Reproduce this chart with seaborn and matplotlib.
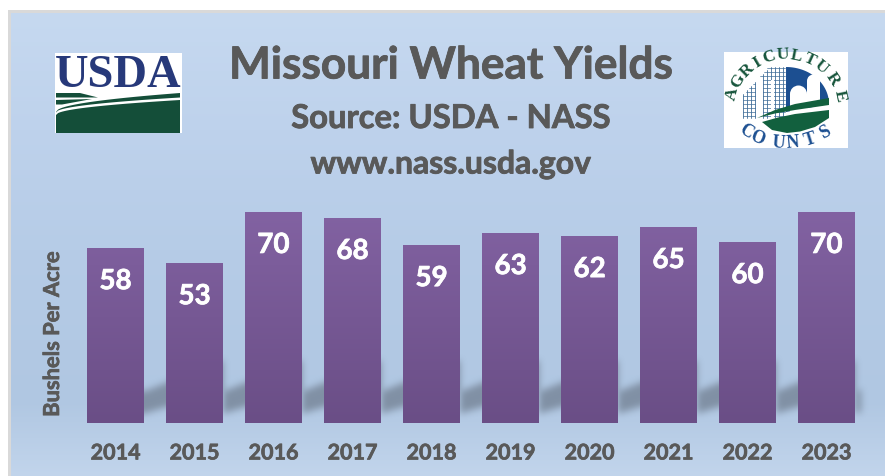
import numpy as np
import pandas as pd
import seaborn as sns
import matplotlib
matplotlib.use("Agg")
import matplotlib.pyplot as plt
import matplotlib.patheffects as pe
from matplotlib.patches import Rectangle, Polygon, Wedge

years = ["2014", "2015", "2016", "2017", "2018", "2019", "2020", "2021", "2022", "2023"]
yields = [58, 53, 70, 68, 59, 63, 62, 65, 60, 70]
title_lines = ["Missouri Wheat Yields", "Source: USDA - NASS", "www.nass.usda.gov"]
ylabel = "Bushels Per Acre"

W, H = 885, 476
GRAY = "#595959"
sns.set_theme(style="white")
plt.rcParams["font.family"] = ["Lato", "DejaVu Sans"]

fig = plt.figure(figsize=(W / 100, H / 100), dpi=100, facecolor="white")


def px_axes(l, t, r, b, **kw):
    return fig.add_axes([l / W, 1 - b / H, (r - l) / W, (b - t) / H], **kw)


def heavy(color, w=0.7):
    return [pe.withStroke(linewidth=w, foreground=color)]


# ---- background panel in pixel coordinates
bg = px_axes(0, 0, W, H)
bg.set_xlim(0, W)
bg.set_ylim(H, 0)
bg.axis("off")
stops_y = [12, 130, 250, 400, 476]
stops_c = np.array([[198, 217, 240], [190, 210, 236], [182, 204, 231], [176, 199, 226], [194, 213, 236]]) / 255
yy = np.arange(12, 476)
grad = np.stack([np.interp(yy, stops_y, stops_c[:, i]) for i in range(3)], axis=1)[:, None, :]
bg.imshow(grad, extent=(11, W, H, 12), aspect="auto", interpolation="bilinear", zorder=0)
bg.add_patch(Rectangle((8, 10), W - 8, 2.5, fc="#d9d9d9", ec="none", zorder=1))
bg.add_patch(Rectangle((8, 10), 3, H - 10, fc="#d9d9d9", ec="none", zorder=1))
bg.set_xlim(0, W)
bg.set_ylim(H, 0)

# ---- main chart
ax = px_axes(76, 212, 866, 423)
ax.patch.set_alpha(0)
df = pd.DataFrame({"year": years, "yield": yields})
sns.barplot(data=df, x="year", y="yield", ax=ax, color="#75588f", width=0.72, saturation=1,
            zorder=3, linewidth=0, edgecolor="none")
ax.set_xlim(-0.5, 9.5)
ax.set_ylim(0, 70)
ax.set_yticks([])
ax.set_xlabel("")
ax.set_ylabel("")
for s in ax.spines.values():
    s.set_visible(False)
ax.tick_params(axis="x", length=0, pad=14)
for t in ax.get_xticklabels():
    t.set_fontsize(15.5)
    t.set_fontweight("bold")
    t.set_color(GRAY)
    t.set_path_effects(heavy(GRAY, 0.5))
fig.text(52.5 / W, 1 - 333.5 / H, ylabel, rotation=90, ha="center", va="center",
         fontsize=15.8, fontweight="bold", color=GRAY, path_effects=heavy(GRAY, 0.5))

# gradient fill and labels on the bars
bars = list(ax.containers[0])
top_c = np.array([130, 98, 162]) / 255
bot_c = np.array([106, 78, 134]) / 255
ramp_t = np.linspace(0, 1, 256)[:, None, None]
ramp = top_c[None, None, :] * (1 - ramp_t) + bot_c[None, None, :] * ramp_t
for b in bars:
    im = ax.imshow(ramp, extent=(b.get_x(), b.get_x() + b.get_width(), 0, 70),
                   aspect="auto", zorder=4, interpolation="bilinear")
    im.set_clip_path(b)
ax.set_xlim(-0.5, 9.5)
ax.set_ylim(0, 70)
labels = ax.bar_label(ax.containers[0], labels=[str(v) for v in yields], label_type="edge",
                      padding=-29.5, color="white", fontsize=20, fontweight="bold", zorder=6)
for l in labels:
    l.set_va("baseline")
    l.set_path_effects(heavy("white", 0.5))

# soft shadow band behind the bars, derived from the bars' own pixel extents
fig.canvas.draw()
x0, x1 = 70, 885
y0, y1 = 350, 435
X, Y = np.meshgrid(np.arange(x0, x1), np.arange(y0, y1))
edges = [ax.transData.transform([(b.get_x(), 0), (b.get_x() + b.get_width(), 0)])[:, 0] for b in bars]
lefts = np.array([e[0] for e in edges])
rights = np.array([e[1] for e in edges])
local = np.full(X.shape, 0.0)
for r in rights:
    local = np.where(X >= r, X - r, local)
mask = ((X >= lefts[0] + 10) & (X <= rights[-1] + 6)
        & (Y >= 391 - 0.4 * local) & (Y <= 413 - 0.3 * local)).astype(float)
kernel = np.ones(7) / 7
for _ in range(3):
    mask = np.apply_along_axis(lambda v: np.convolve(v, kernel, mode="same"), 0, mask)
    mask = np.apply_along_axis(lambda v: np.convolve(v, kernel, mode="same"), 1, mask)
shadow = np.zeros(mask.shape + (4,))
shadow[..., :3] = np.array([90, 100, 115]) / 255
shadow[..., 3] = mask * 0.55
bg.imshow(shadow, extent=(x0, x1, y1, y0), aspect="auto", zorder=2, interpolation="bilinear")
bg.set_xlim(0, W)
bg.set_ylim(H, 0)

# ---- title block
for txt, y, fs in zip(title_lines, [65.5, 118.5, 164], [31.8, 23.6, 23], strict=True):
    bg.text(451, y, txt, ha="center", va="center", fontsize=fs, fontweight="bold", color=GRAY, zorder=5,
            path_effects=heavy(GRAY, 0.6))

# ---- USDA logo
NAVY = "#27397a"
DGREEN = "#144e39"
bg.add_patch(Rectangle((55, 53), 127, 80, fc="white", ec="none", zorder=5))
bg.text(118, 87, "USDA", ha="center", va="baseline", fontsize=33.5, color=NAVY, zorder=6,
        family="Liberation Serif", fontweight="bold")
xs = np.linspace(56, 180, 60)
frac = (xs - 56) / 124
bg.add_patch(Polygon(np.r_[np.c_[xs, 115 - 15 * np.sqrt(frac)], [[180, 133], [56, 133]]],
                     fc=DGREEN, ec="none", zorder=6))
bg.add_patch(Polygon(np.r_[np.c_[xs, 112 - 19 * np.sqrt(frac)], np.c_[xs, 112.5 - 15 * np.sqrt(frac)][::-1]],
                     fc=DGREEN, ec="none", zorder=6))
bg.add_patch(Polygon([[56, 93], [80, 93], [98, 97.5], [56, 97.5]], fc=DGREEN, ec="none", zorder=6))
bg.add_patch(Polygon([[56, 100], [92, 99], [62, 104.5], [56, 104.5]], fc=DGREEN, ec="none", zorder=6))

# ---- Agriculture Counts logo
BLUE = "#1c4f91"
LGREEN = "#12603e"
bg.add_patch(Rectangle((724, 52), 124, 96, fc="white", ec="none", zorder=5))
cx = 786
ang = np.linspace(-1.57, 0, 30)
bg.add_patch(Polygon(np.c_[786 + 43 * np.cos(ang), 104 + 37 * np.sin(ang)].tolist() + [[786, 112]],
                     fc=BLUE, ec="none", zorder=6))
# farm silhouette in white
bg.add_patch(Wedge((798.5, 94), 8.5, 180, 360, fc="white", ec="none", zorder=7))
bg.add_patch(Wedge((813.5, 81), 6.5, 180, 360, fc="white", ec="none", zorder=7))
bg.add_patch(Rectangle((790, 94), 17, 18, fc="white", ec="none", zorder=7))
bg.add_patch(Rectangle((807, 81), 13, 26, fc="white", ec="none", zorder=7))
# city grid
for gx in np.arange(743, 786, 4):
    top = 67 + max(0, 770 - gx) * 1.0
    bg.plot([gx, gx], [top, 118], color="#3f6d99", lw=0.6, zorder=6)
for gy in np.arange(68, 118, 4):
    x_start = 743 + max(0, 95 - gy) * 0.9
    bg.plot([x_start, 785], [gy, gy], color="#3f6d99", lw=0.5, zorder=6)
bg.add_patch(Rectangle((756, 78), 7, 42, fc="white", ec="none", zorder=6.5))
bg.add_patch(Rectangle((771, 80), 2.5, 40, fc="white", ec="none", zorder=6.5))
# field swooshes
bg.add_patch(Polygon([[757, 118], [775, 110], [795, 104], [829, 98], [829, 105], [795, 110], [775, 113.5]],
                     fc=LGREEN, ec="none", zorder=7))
bg.add_patch(Polygon([[762, 122], [778, 117.5], [795, 114], [829, 110], [829, 118], [815, 127], [800, 131.5],
                      [787, 133], [772, 130]],
                     fc=LGREEN, ec="none", zorder=7))


def arc_text(word, angs, cy, rx, ry, rot_of, fs, color):
    for ch, a in zip(word, angs, strict=True):
        rad = np.deg2rad(a)
        bg.text(cx + rx * np.cos(rad), cy - ry * np.sin(rad), ch, ha="center", va="center",
                rotation=rot_of(a), fontsize=fs, color=color,
                family="Liberation Serif", fontweight="bold", zorder=8)


arc_text("AGRICULTURE", [166, 150, 135, 121, 108, 93, 79, 65, 50, 33, 12], 107, 55, 52,
         lambda a: a - 90, 12.5, "#17553c")
arc_text("COUNTS", [217, 235.5, 261, 278, 299, 321], 115, 50, 28,
         lambda a: (a - 270) * 0.6, 13, BLUE)
bg.set_xlim(0, W)
bg.set_ylim(H, 0)

fig.savefig("out.png", dpi=100, facecolor="white")
